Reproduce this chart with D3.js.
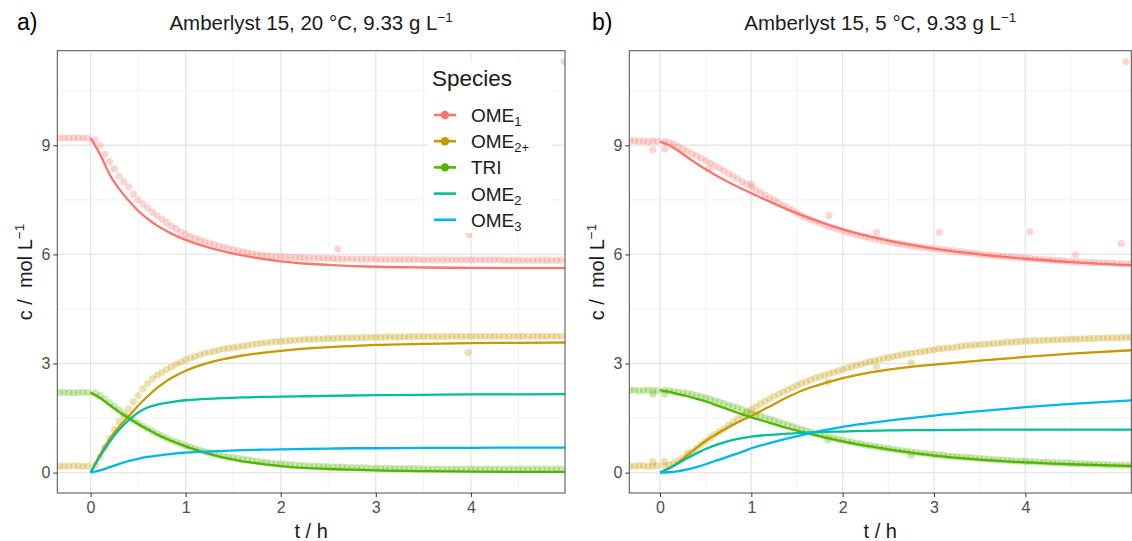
<!doctype html>
<html lang="en">
<head>
  <meta charset="UTF-8">
  <script src="https://cdn.jsdelivr.net/npm/d3@7"></script>
  <title>Amberlyst 15 kinetics</title>
  <style>
    body{ margin:0; background:#fff; }
    svg{ font-family: "Liberation Sans", Arial, sans-serif; }
  </style>
</head>
<body>
  <div class="chart"></div>
  <script>
    // model curves: common time grid (h)
    const modelTime = [0,0.1,0.2,0.3,0.4,0.5,0.6,0.7,0.8,0.9,1.0,1.2,1.4,1.6,1.8,2.0,2.25,2.5,2.75,3.0,3.5,4.0,4.5,5.2];

    // panel a) 20 °C - model
    const lineOme1A  = [9.2,8.75,8.2,7.8,7.48,7.2,6.98,6.79,6.64,6.51,6.4,6.22,6.08,5.97,5.88,5.81,5.75,5.71,5.68,5.66,5.64,5.63,5.62,5.62];
    const lineOme2pA = [0,0.5,0.92,1.26,1.55,1.84,2.1,2.33,2.52,2.67,2.8,2.99,3.12,3.22,3.29,3.35,3.41,3.45,3.48,3.51,3.54,3.56,3.57,3.58];
    const lineTriA   = [2.2,2.05,1.86,1.67,1.5,1.34,1.19,1.05,0.93,0.82,0.72,0.55,0.41,0.31,0.24,0.18,0.13,0.1,0.08,0.06,0.04,0.03,0.02,0.02];
    const lineOme2A  = [0,0.45,0.85,1.18,1.44,1.65,1.79,1.87,1.92,1.96,1.99,2.03,2.05,2.07,2.08,2.09,2.1,2.11,2.12,2.13,2.14,2.15,2.15,2.16];
    const lineOme3A  = [0,0.06,0.15,0.24,0.32,0.38,0.43,0.47,0.5,0.53,0.55,0.58,0.6,0.62,0.63,0.64,0.65,0.66,0.67,0.67,0.68,0.68,0.69,0.69];

    // panel a) 20 °C - measurements
    const timeA = [-0.33,-0.28,-0.23,-0.18,-0.13,-0.08,-0.03,
      0.05,0.1,0.15,0.2,0.25,0.3,0.35,0.4,0.45,0.5,0.55,0.6,0.65,0.7,0.75,0.8,0.85,0.9,0.95,1.0,
      1.05,1.1,1.15,1.2,1.25,1.3,1.35,1.4,1.45,1.5,1.55,1.6,1.65,1.7,1.75,1.8,1.85,1.9,1.95,2.0,
      2.05,2.1,2.15,2.2,2.25,2.3,2.35,2.4,2.45,2.5,2.55,2.6,2.65,2.7,2.75,2.8,2.85,2.9,2.95,3.0,
      3.05,3.1,3.15,3.2,3.25,3.3,3.35,3.4,3.45,3.5,3.55,3.6,3.65,3.7,3.75,3.8,3.85,3.9,3.95,4.0,
      4.05,4.1,4.15,4.2,4.25,4.3,4.35,4.4,4.45,4.5,4.55,4.6,4.65,4.7,4.75,4.8,4.85,4.9,4.95];
    const ome1A = [9.2,9.21,9.19,9.2,9.21,9.2,9.19,
      9.15,9.0,8.75,8.55,8.35,8.15,8.0,7.85,7.65,7.5,7.38,7.27,7.16,7.06,6.97,6.88,6.78,6.7,6.62,6.55,
      6.49,6.44,6.39,6.35,6.31,6.27,6.23,6.2,6.16,6.13,6.1,6.07,6.05,6.02,6.0,5.98,5.97,5.95,5.94,5.93,
      5.93,5.92,5.92,5.91,5.91,5.9,5.9,5.9,5.89,5.89,5.89,5.88,5.88,5.88,5.88,5.87,5.87,5.87,5.87,5.87,
      5.86,5.86,5.86,5.86,5.86,5.86,5.86,5.86,5.86,5.85,5.85,5.85,5.85,5.85,5.85,5.85,5.85,5.85,5.85,5.85,
      5.85,5.85,5.85,5.85,5.85,5.85,5.84,5.84,5.84,5.84,5.84,5.84,5.84,5.84,5.84,5.84,5.84,5.84,5.84];
    const ome2pA = [0.18,0.17,0.18,0.19,0.18,0.17,0.18,
      0.2,0.42,0.7,0.95,1.18,1.4,1.55,1.75,1.95,2.12,2.3,2.45,2.58,2.68,2.76,2.84,2.91,2.98,3.04,3.1,
      3.15,3.2,3.24,3.28,3.31,3.34,3.37,3.4,3.42,3.44,3.46,3.48,3.5,3.52,3.54,3.56,3.57,3.59,3.6,3.61,
      3.62,3.63,3.64,3.65,3.66,3.67,3.67,3.68,3.68,3.69,3.69,3.7,3.7,3.7,3.71,3.71,3.71,3.72,3.72,3.72,
      3.72,3.73,3.73,3.73,3.73,3.73,3.74,3.74,3.74,3.74,3.74,3.74,3.74,3.74,3.74,3.75,3.75,3.75,3.75,3.75,
      3.75,3.75,3.75,3.75,3.75,3.75,3.75,3.75,3.75,3.75,3.75,3.75,3.75,3.75,3.75,3.75,3.75,3.75,3.75];
    const triA = [2.2,2.21,2.2,2.19,2.2,2.21,2.2,
      2.19,2.12,2.02,1.92,1.82,1.72,1.62,1.53,1.44,1.36,1.28,1.21,1.14,1.07,1.01,0.95,0.89,0.84,0.79,0.74,
      0.7,0.66,0.62,0.58,0.55,0.52,0.49,0.46,0.43,0.41,0.39,0.37,0.35,0.33,0.31,0.29,0.28,0.26,0.25,0.24,
      0.23,0.22,0.21,0.2,0.19,0.18,0.18,0.17,0.17,0.16,0.16,0.15,0.15,0.14,0.14,0.13,0.13,0.13,0.12,0.12,
      0.12,0.12,0.12,0.11,0.11,0.11,0.11,0.11,0.11,0.1,0.1,0.1,0.1,0.1,0.1,0.1,0.1,0.1,0.1,0.1,
      0.1,0.1,0.1,0.1,0.1,0.1,0.1,0.1,0.1,0.1,0.1,0.1,0.1,0.1,0.1,0.1,0.1,0.1,0.1];
    const outTimeA = [2.6, 3.98, 4.98, 3.97];
    const outValA  = [6.15, 6.55, 11.3, 3.3];
    const outSpecA = ["OME1", "OME1", "OME1", "OME2+"];

    // panel b) 5 °C - model
    const lineOme1B  = [9.1,9.0,8.85,8.67,8.5,8.34,8.19,8.05,7.92,7.8,7.68,7.45,7.23,7.03,6.85,6.69,6.52,6.38,6.26,6.16,6.0,5.88,5.79,5.7];
    const lineOme2pB = [0,0.12,0.28,0.48,0.68,0.87,1.03,1.18,1.32,1.44,1.56,1.82,2.08,2.3,2.46,2.6,2.73,2.83,2.91,2.97,3.08,3.18,3.27,3.37];
    const lineTriB   = [2.27,2.22,2.16,2.1,2.03,1.96,1.87,1.78,1.69,1.6,1.52,1.37,1.22,1.09,0.97,0.86,0.74,0.64,0.55,0.47,0.36,0.28,0.23,0.18];
    const lineOme2B  = [0,0.12,0.26,0.4,0.53,0.65,0.75,0.83,0.9,0.95,0.99,1.04,1.07,1.1,1.12,1.13,1.15,1.16,1.17,1.17,1.18,1.18,1.18,1.18];
    const lineOme3B  = [0,0.01,0.04,0.09,0.15,0.23,0.32,0.4,0.49,0.57,0.67,0.81,0.94,1.06,1.17,1.26,1.35,1.43,1.5,1.57,1.69,1.8,1.89,1.99];

    // panel b) 5 °C - measurements
    const timeB = [-0.33,-0.28,-0.23,-0.18,-0.13,-0.08,-0.03,
      0.05,0.1,0.15,0.2,0.25,0.3,0.35,0.4,0.45,0.5,0.55,0.6,0.65,0.7,0.75,0.8,0.85,0.9,0.95,1.0,
      1.05,1.1,1.15,1.2,1.25,1.3,1.35,1.4,1.45,1.5,1.55,1.6,1.65,1.7,1.75,1.8,1.85,1.9,1.95,2.0,
      2.05,2.1,2.15,2.2,2.25,2.3,2.35,2.4,2.45,2.5,2.55,2.6,2.65,2.7,2.75,2.8,2.85,2.9,2.95,3.0,
      3.05,3.1,3.15,3.2,3.25,3.3,3.35,3.4,3.45,3.5,3.55,3.6,3.65,3.7,3.75,3.8,3.85,3.9,3.95,4.0,
      4.05,4.1,4.15,4.2,4.25,4.3,4.35,4.4,4.45,4.5,4.55,4.6,4.65,4.7,4.75,4.8,4.85,4.9,4.95,5.0,
      5.05,5.1,5.15];
    const ome1B = [9.12,9.13,9.11,9.12,9.1,9.12,9.11,
      9.1,9.07,9.03,8.97,8.9,8.84,8.77,8.71,8.64,8.58,8.51,8.44,8.37,8.3,8.22,8.15,8.08,8.0,7.93,7.85,
      7.78,7.71,7.63,7.56,7.49,7.42,7.35,7.28,7.21,7.14,7.07,7.01,6.96,6.91,6.86,6.81,6.77,6.73,6.69,6.65,
      6.61,6.58,6.54,6.51,6.48,6.45,6.42,6.4,6.37,6.35,6.32,6.3,6.28,6.26,6.24,6.22,6.2,6.19,6.17,6.16,
      6.14,6.13,6.11,6.1,6.08,6.07,6.05,6.04,6.02,6.01,5.99,5.98,5.97,5.96,5.95,5.94,5.93,5.92,5.91,5.9,
      5.89,5.88,5.87,5.86,5.85,5.84,5.83,5.82,5.81,5.8,5.8,5.79,5.79,5.78,5.78,5.77,5.77,5.76,5.76,5.75,
      5.75,5.74,5.74];
    const ome2pB = [0.17,0.18,0.19,0.18,0.17,0.18,0.19,
      0.19,0.22,0.26,0.32,0.4,0.48,0.57,0.67,0.77,0.87,0.96,1.05,1.13,1.21,1.3,1.39,1.48,1.57,1.65,1.73,
      1.81,1.89,1.96,2.03,2.1,2.16,2.22,2.28,2.34,2.4,2.45,2.5,2.55,2.6,2.64,2.68,2.72,2.76,2.8,2.84,
      2.88,2.91,2.95,2.98,3.02,3.05,3.08,3.11,3.14,3.16,3.19,3.21,3.24,3.26,3.28,3.3,3.32,3.34,3.36,3.38,
      3.4,3.41,3.43,3.44,3.46,3.47,3.49,3.5,3.51,3.52,3.53,3.54,3.55,3.56,3.57,3.58,3.59,3.6,3.61,3.62,
      3.62,3.63,3.63,3.64,3.64,3.65,3.65,3.66,3.66,3.67,3.67,3.68,3.68,3.69,3.69,3.7,3.7,3.7,3.71,3.71,
      3.71,3.72,3.72];
    const triB = [2.26,2.27,2.25,2.26,2.27,2.26,2.25,
      2.26,2.25,2.23,2.21,2.19,2.17,2.15,2.12,2.09,2.06,2.02,1.98,1.94,1.9,1.86,1.82,1.78,1.73,1.69,1.64,
      1.6,1.55,1.51,1.47,1.43,1.39,1.35,1.31,1.27,1.23,1.19,1.15,1.12,1.08,1.05,1.01,0.98,0.95,0.92,0.89,
      0.86,0.84,0.81,0.79,0.76,0.74,0.72,0.7,0.68,0.66,0.64,0.62,0.6,0.59,0.57,0.56,0.54,0.53,0.51,0.5,
      0.49,0.48,0.46,0.45,0.44,0.43,0.42,0.41,0.4,0.39,0.38,0.37,0.36,0.35,0.35,0.34,0.33,0.32,0.32,0.31,
      0.3,0.3,0.29,0.29,0.28,0.28,0.27,0.27,0.26,0.26,0.25,0.25,0.24,0.24,0.23,0.23,0.22,0.22,0.21,0.21,
      0.2,0.2,0.2];
    const outTimeB = [-0.08,0.05,0.53,1.0,1.85,2.37,3.06,4.05,4.55,5.05,5.1,-0.08,0.05,0.3,1.84,2.37,2.75,-0.08,0.05,1.84,2.75];
    const outValB  = [8.88,8.9,8.35,7.94,7.07,6.61,6.6,6.63,5.99,6.3,11.3,0.3,0.3,0.54,2.5,2.91,3.02,2.16,2.16,0.9,0.48];
    const outSpecB = ["OME1","OME1","OME1","OME1","OME1","OME1","OME1","OME1","OME1","OME1","OME1",
      "OME2+","OME2+","OME2+","OME2+","OME2+","OME2+","TRI","TRI","TRI","TRI"];

    const species = ["OME1", "OME2+", "TRI", "OME2", "OME3"];
    const subs = ["1", "2+", "", "2", "3"];
    const colors = {"OME1":"#F8766D", "OME2+":"#C49A00", "TRI":"#53B400", "OME2":"#00C094", "OME3":"#00B6EB"};

    const yTicks = [0, 3, 6, 9];
    const xTicks = [0, 1, 2, 3, 4];

    const W = 1132, H = 541;
    const svg = d3.select('.chart').append('svg').attr('width', W).attr('height', H);

    function drawPanel(p) {
      const x = d3.scaleLinear().domain(p.xDomain).range([p.left, p.right]);
      const y = d3.scaleLinear().domain([-0.56, 11.6]).range([493, 50.7]);
      const g = svg.append('g');
      const clipId = 'clip-' + p.tag;
      g.append('clipPath').attr('id', clipId).append('rect')
        .attr('x', p.left).attr('y', 50.7).attr('width', p.right - p.left).attr('height', 493 - 50.7);

      // grid
      const minorX = d3.range(-0.5, 5.6, 1).filter(v => v > p.xDomain[0] && v < p.xDomain[1]);
      const minorY = [1.5, 4.5, 7.5, 10.5];
      g.selectAll('line.mx').data(minorX).join('line')
        .attr('x1', d => x(d)).attr('x2', d => x(d)).attr('y1', 50.7).attr('y2', 493)
        .attr('stroke', '#f0f0f0').attr('stroke-width', 0.9);
      g.selectAll('line.my').data(minorY).join('line')
        .attr('y1', d => y(d)).attr('y2', d => y(d)).attr('x1', p.left).attr('x2', p.right)
        .attr('stroke', '#f0f0f0').attr('stroke-width', 0.9);
      g.selectAll('line.gx').data(xTicks).join('line')
        .attr('x1', d => x(d)).attr('x2', d => x(d)).attr('y1', 50.7).attr('y2', 493)
        .attr('stroke', '#e6e6e6').attr('stroke-width', 1.3);
      g.selectAll('line.gy').data(yTicks).join('line')
        .attr('y1', d => y(d)).attr('y2', d => y(d)).attr('x1', p.left).attr('x2', p.right)
        .attr('stroke', '#e6e6e6').attr('stroke-width', 1.3);

      const plot = g.append('g').attr('clip-path', `url(#${clipId})`);

      // measured points
      p.points.forEach(s => {
        const data = p.time.map((t, i) => ({t: t, v: s.vals[i]}));
        plot.append('g').selectAll('circle').data(data).join('circle')
          .attr('cx', d => x(d.t)).attr('cy', d => y(d.v)).attr('r', 3.6)
          .attr('fill', colors[s.key]).attr('fill-opacity', 0.3);
      });
      const outs = p.outTime.map((t, i) => ({t: t, v: p.outVal[i], k: p.outSpec[i]}));
      plot.append('g').selectAll('circle').data(outs).join('circle')
        .attr('cx', d => x(d.t)).attr('cy', d => y(d.v)).attr('r', 3.6)
        .attr('fill', d => colors[d.k]).attr('fill-opacity', 0.3);

      // model lines
      const line = d3.line().x(d => x(d.t)).y(d => y(d.v)).curve(d3.curveMonotoneX);
      p.lines.forEach(s => {
        const data = modelTime.map((t, i) => ({t: t, v: s.vals[i]}));
        plot.append('path').datum(data).attr('d', line)
          .attr('fill', 'none').attr('stroke', colors[s.key]).attr('stroke-width', 2.3);
      });

      // border
      g.append('rect').attr('x', p.left).attr('y', 50.7).attr('width', p.right - p.left).attr('height', 493 - 50.7)
        .attr('fill', 'none').attr('stroke', '#4d4d4d').attr('stroke-width', 1);

      // axes
      const xAxis = g.append('g').attr('transform', 'translate(0,493)')
        .call(d3.axisBottom(x).tickValues(xTicks).tickSize(4).tickPadding(5).tickFormat(d3.format('d')));
      const yAxis = g.append('g').attr('transform', `translate(${p.left},0)`)
        .call(d3.axisLeft(y).tickValues(yTicks).tickSize(4).tickPadding(3).tickFormat(d3.format('d')));
      [xAxis, yAxis].forEach(a => {
        a.select('.domain').remove();
        a.selectAll('.tick line').attr('stroke', '#333').attr('stroke-width', 1);
        a.selectAll('.tick text').attr('fill', '#4d4d4d').attr('font-size', 16)
          .attr('font-family', '"Liberation Sans", Arial, sans-serif');
      });

      // titles
      const cx = (p.left + p.right) / 2;
      const title = g.append('text').attr('x', cx).attr('y', 30).attr('text-anchor', 'middle')
        .attr('font-size', 20.5).attr('fill', '#1a1a1a').text(p.title);
      title.append('tspan').attr('font-size', 13.5).attr('dy', -8).text('\u22121');
      g.append('text').attr('x', p.tagX).attr('y', 30).attr('font-size', 23).attr('fill', '#000').text(p.tag + ')');
      g.append('text').attr('x', cx).attr('y', 538).attr('text-anchor', 'middle')
        .attr('font-size', 20).attr('fill', '#1a1a1a').text('t / h');
      const yl = g.append('text').attr('transform', `translate(${p.left - 25},272) rotate(-90)`)
        .attr('text-anchor', 'middle').attr('font-size', 20).attr('fill', '#1a1a1a').text('c /\u00a0 mol L');
      yl.append('tspan').attr('font-size', 13.5).attr('dy', -8).text('\u22121');
    }

    drawPanel({
      tag: 'a', tagX: 17, title: 'Amberlyst 15, 20 \u00b0C, 9.33 g L',
      xDomain: [-0.35, 4.99], left: 57.3, right: 565,
      time: timeA,
      points: [{key:'OME1', vals: ome1A}, {key:'OME2+', vals: ome2pA}, {key:'TRI', vals: triA}],
      outTime: outTimeA, outVal: outValA, outSpec: outSpecA,
      lines: [{key:'OME1', vals: lineOme1A}, {key:'OME2+', vals: lineOme2pA}, {key:'TRI', vals: lineTriA},
              {key:'OME2', vals: lineOme2A}, {key:'OME3', vals: lineOme3A}]
    });
    drawPanel({
      tag: 'b', tagX: 592, title: 'Amberlyst 15, 5 \u00b0C, 9.33 g L',
      xDomain: [-0.336, 5.16], left: 629.3, right: 1131.3,
      time: timeB,
      points: [{key:'OME1', vals: ome1B}, {key:'OME2+', vals: ome2pB}, {key:'TRI', vals: triB}],
      outTime: outTimeB, outVal: outValB, outSpec: outSpecB,
      lines: [{key:'OME1', vals: lineOme1B}, {key:'OME2+', vals: lineOme2pB}, {key:'TRI', vals: lineTriB},
              {key:'OME2', vals: lineOme2B}, {key:'OME3', vals: lineOme3B}]
    });

    // legend inside panel a
    const lg = svg.append('g');
    lg.append('rect').attr('x', 428).attr('y', 62).attr('width', 124).attr('height', 171).attr('fill', '#fff');
    lg.append('text').attr('x', 432).attr('y', 86).attr('font-size', 22.5).attr('fill', '#1a1a1a').text('Species');
    species.forEach((s, i) => {
      const cy = 115 + i * 26.2;
      lg.append('line').attr('x1', 434).attr('x2', 456).attr('y1', cy).attr('y2', cy)
        .attr('stroke', colors[s]).attr('stroke-width', 2.6);
      if (i < 3) lg.append('circle').attr('cx', 445).attr('cy', cy).attr('r', 4.2).attr('fill', colors[s]);
      const t = lg.append('text').attr('x', 471).attr('y', cy + 7).attr('font-size', 19).attr('fill', '#1a1a1a')
        .text(s === 'TRI' ? 'TRI' : 'OME');
      if (subs[i]) t.append('tspan').attr('font-size', 13).attr('dy', 4).text(subs[i]);
    });
  </script>
</body>
</html>
